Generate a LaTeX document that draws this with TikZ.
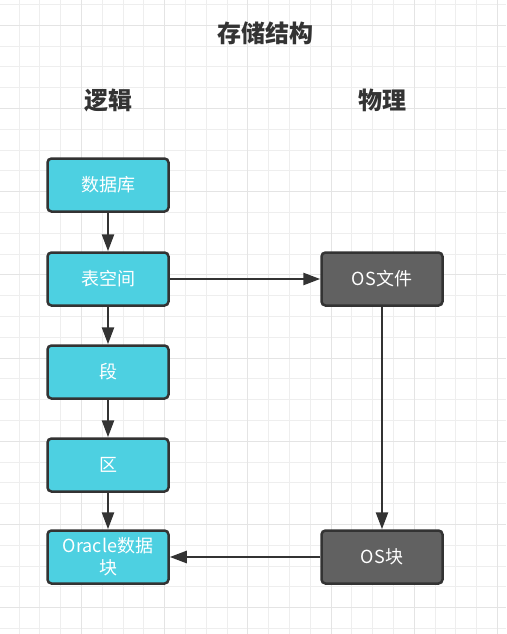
\documentclass[tikz,border=0pt]{standalone}
\usepackage{fontspec}
\setmainfont{Noto Sans CJK SC}
\usetikzlibrary{arrows.meta}
\definecolor{boxcyan}{HTML}{4DD0E1}
\definecolor{boxgrey}{HTML}{616161}
\definecolor{edge}{HTML}{333333}
\definecolor{gridc}{HTML}{EEEEEE}
\definecolor{gridm}{HTML}{E4E4E4}
\begin{document}
\begin{tikzpicture}[x=1pt,y=-1pt,
  box/.style={draw=edge,line width=2.5pt,rounded corners=4pt,minimum width=121pt,minimum height=53pt,
    text=white,font=\fontsize{18}{22}\selectfont,align=center,inner sep=0pt},
  cy/.style={box,fill=boxcyan},
  gy/.style={box,fill=boxgrey},
  head/.style={text=edge,font=\fontsize{24}{26}\selectfont\bfseries},
  conn/.style={draw=edge,line width=2.5pt,-{Triangle[width=12pt,length=17pt]}}]
\useasboundingbox (0,0) rectangle (506,634);
\fill[white] (0,0) rectangle (506,634);
\foreach \k in {0,...,23}{
  \draw[gridc,line width=1pt] ({19+20.8*\k},0) -- ({19+20.8*\k},634);}
\foreach \k in {0,...,30}{
  \draw[gridc,line width=1pt] (0,{4.5+20.8*\k}) -- (506,{4.5+20.8*\k});}
\foreach \k in {3,7,...,23}{
  \draw[gridm,line width=1pt] ({19+20.8*\k},0) -- ({19+20.8*\k},634);}
\foreach \k in {1,5,...,29}{
  \draw[gridm,line width=1pt] (0,{4.5+20.8*\k}) -- (506,{4.5+20.8*\k});}

\node[head] (title) at (265,33) {存储结构};
\node[head] (logic) at (108,100) {逻辑};
\node[head] (phys) at (382,100) {物理};

\node[cy] (db) at (108,185) {数据库};
\node[cy] (ts) at (108,279) {表空间};
\node[cy] (seg) at (108,372) {段};
\node[cy] (ext) at (108,465) {区};
\node[cy] (blk) at (108,557) {Oracle数据\\块};
\node[gy] (osf) at (382,279) {OS文件};
\node[gy] (osb) at (382,557) {OS块};

\draw[conn] (db) -- (ts);
\draw[conn] (ts) -- (seg);
\draw[conn] (seg) -- (ext);
\draw[conn] (ext) -- (blk);
\draw[conn] (ts) -- (osf);
\draw[conn] (osf) -- (osb);
\draw[conn] (osb) -- (blk);
\end{tikzpicture}
\end{document}
